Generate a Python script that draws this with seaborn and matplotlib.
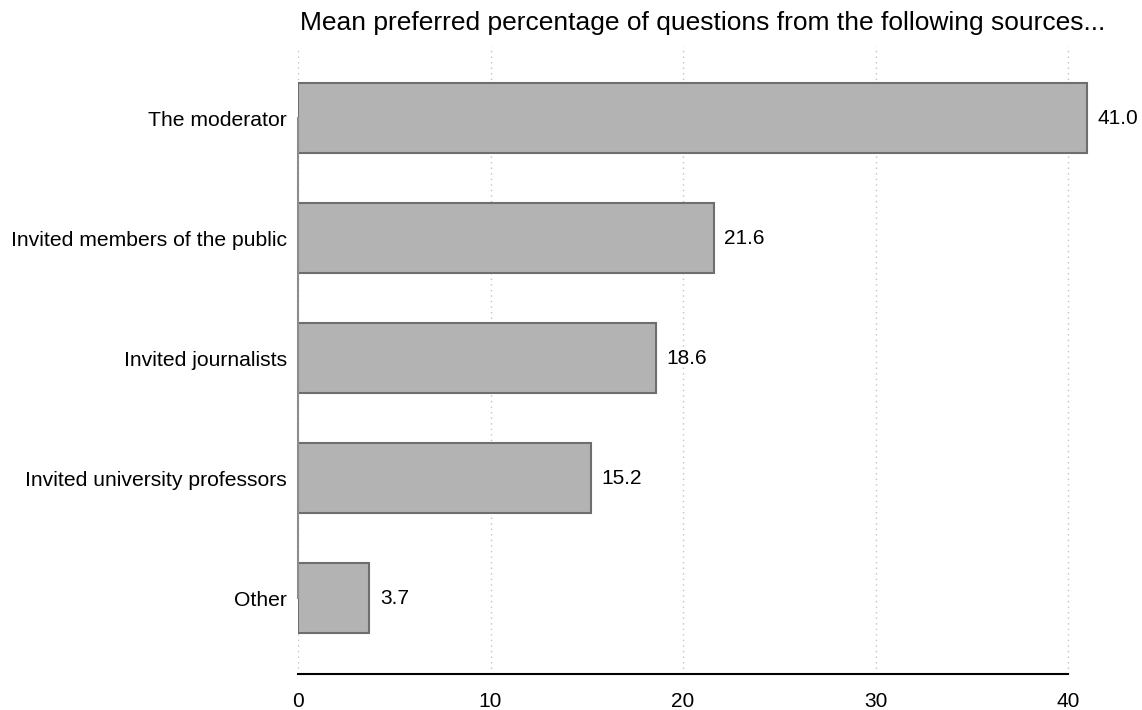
import matplotlib
matplotlib.use("Agg")
import matplotlib.pyplot as plt
import seaborn as sns
import pandas as pd

sources = [
    "The moderator",
    "Invited members of the public",
    "Invited journalists",
    "Invited university professors",
    "Other",
]
mean_pct = [41.0, 21.6, 18.6, 15.2, 3.7]
x_ticks = [0, 10, 20, 30, 40]
title = "Mean preferred percentage of questions from the following sources..."

df = pd.DataFrame({"source": sources, "pct": mean_pct})

sns.set_theme(style="white")
plt.rcParams["font.family"] = ["Liberation Sans", "DejaVu Sans"]

fig = plt.figure(figsize=(11.42, 7.10), dpi=100)
ax = fig.add_axes([298 / 1142, 1 - 674 / 710, (1142 - 298) / 1142, (674 - 46) / 710])

sns.barplot(
    data=df, x="pct", y="source", orient="h", ax=ax,
    color="#b3b3b3", edgecolor="#6e6e6e", linewidth=1.5,
    width=0.583, saturation=1,
)

ax.set_xlim(0, 43.84)
ax.set_ylim(4.633, -0.6)

# dotted vertical grid
for t in x_ticks:
    ax.axvline(t, color="#c4c4c4", linestyle=(0, (1, 3)), linewidth=1, zorder=0)

for s in ["top", "right"]:
    ax.spines[s].set_visible(False)
ax.spines["bottom"].set_bounds(0, 40)
ax.spines["bottom"].set_color("black")
ax.spines["bottom"].set_linewidth(1.5)
ax.spines["left"].set_bounds(0, 4)
ax.spines["left"].set_color("#8c8c8c")
ax.spines["left"].set_linewidth(1.5)

ax.set_xticks(x_ticks)
ax.set_xticklabels([str(t) for t in x_ticks])
ax.tick_params(axis="x", length=9, width=1.2, color="#8c8c8c", pad=4, labelsize=15, labelcolor="black")
ax.tick_params(axis="y", length=0, pad=8, labelsize=15.2, labelcolor="black")
ax.set_xlabel("")
ax.set_ylabel("")

for i, v in enumerate(mean_pct):
    ax.text(v + 0.55, i, f"{v:.1f}", va="center", ha="left", fontsize=15, color="black", clip_on=False)

fig.text(300 / 1142, 1 - 30 / 710, title, ha="left", va="baseline", fontsize=19, color="black")

fig.savefig("out.png", dpi=100, facecolor="white")
